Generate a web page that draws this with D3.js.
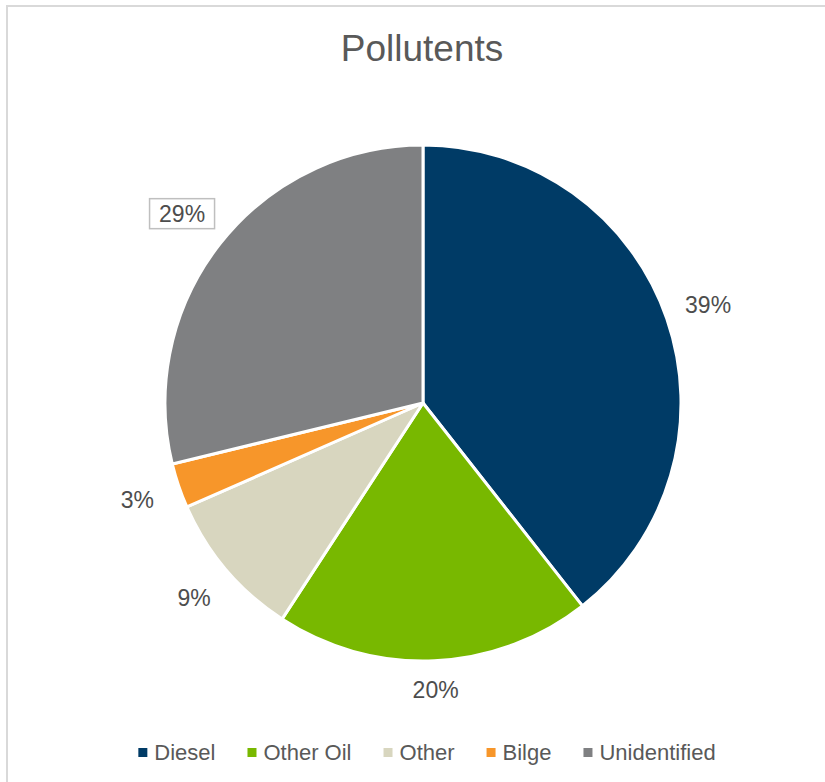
<!DOCTYPE html>
<html><head><meta charset="utf-8">
<script src="https://cdn.jsdelivr.net/npm/d3@7"></script>
<style>body{margin:0;background:#fff;} svg{display:block;font-family:"Liberation Sans",Arial,sans-serif;}</style>
</head><body><svg id="c" width="825" height="782"></svg>
<script>
const categories = ["Diesel","Other Oil","Other","Bilge","Unidentified"];
const values = [39.4, 19.8, 9.2, 2.8, 28.8];
const colors = ["#003b66","#78b800","#d8d6bf","#f7962a","#7f8082"];
const title = "Pollutents";

const svg = d3.select("#c");
svg.append("rect").attr("x",7).attr("y",6).attr("width",840).attr("height",800)
  .attr("fill","#fff").attr("stroke","#d9d9d9").attr("stroke-width",2);

svg.append("text").attr("x",422).attr("y",61).attr("text-anchor","middle")
  .attr("font-size",37).attr("fill","#595959").text(title);

const cx=423, cy=403, R=258;
const total = d3.sum(values);
const pie = d3.pie().sort(null).value(d=>d.v);
const arcs = pie(categories.map((c,i)=>({c, v:values[i], col:colors[i]})));
const arc = d3.arc().innerRadius(0).outerRadius(R);
const g = svg.append("g").attr("transform",`translate(${cx},${cy})`);
g.selectAll("path").data(arcs).join("path")
  .attr("d",arc).attr("fill",d=>d.data.col)
  .attr("stroke","#fff").attr("stroke-width",3).attr("stroke-linejoin","round");

// labels
const fs=23;
arcs.forEach((d,i)=>{
  const a=(d.startAngle+d.endAngle)/2;
  const s=Math.sin(a), c=-Math.cos(a);
  const txt=Math.round(d.data.v/total*100)+"%";
  const boxed = d.data.c==="Unidentified";
  const w = boxed?56:46, h = boxed?24:18;
  const off = Math.abs(s)*w/2+Math.abs(c)*h/2;
  const r = R+19+off;
  const x=s*r, y=c*r;
  if(boxed){
    g.append("rect").attr("x",x-32.5).attr("y",y-15).attr("width",65).attr("height",30)
      .attr("fill","#fff").attr("stroke","#bfbfbf").attr("stroke-width",1.5);
  }
  g.append("text").attr("x",x).attr("y",y).attr("dy","0.36em")
    .attr("text-anchor","middle").attr("font-size",fs).attr("fill","#4d4d4d").text(txt);
});

// legend
const lg = svg.append("g");
const items=[]; let xpos=0;
const lfs=22, gap=32;
const tmp = lg.append("text").attr("font-size",lfs);
categories.forEach((c,i)=>{
  tmp.text(c); const tw=tmp.node().getComputedTextLength();
  items.push({c,col:colors[i],x:xpos,tw});
  xpos += 9+7+tw+gap;
});
tmp.remove();
const totalW = xpos-gap;
const x0 = 427-totalW/2;
items.forEach(it=>{
  lg.append("rect").attr("x",x0+it.x).attr("y",748).attr("width",9).attr("height",9).attr("fill",it.col);
  lg.append("text").attr("x",x0+it.x+16).attr("y",760).attr("font-size",lfs).attr("fill","#595959").text(it.c);
});
</script></body></html>
